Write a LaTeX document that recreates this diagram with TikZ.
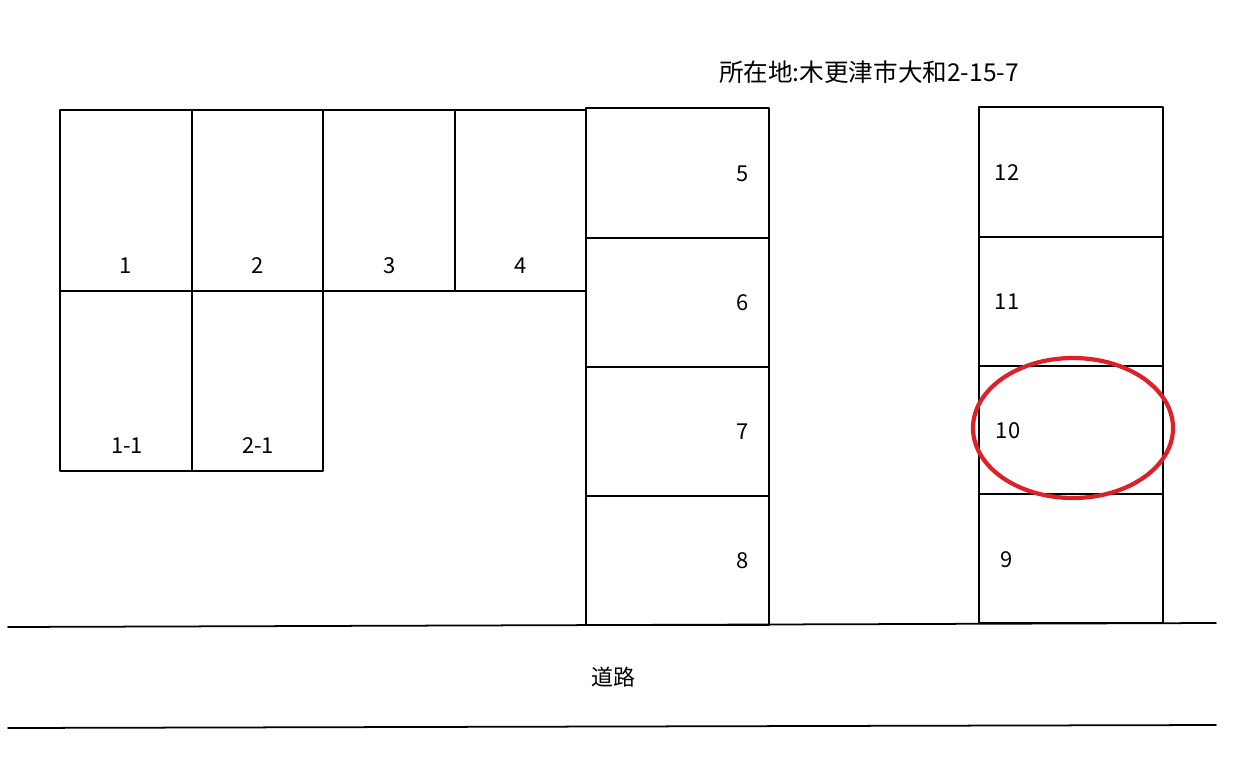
\documentclass[tikz,border=0pt]{standalone}
\usepackage{fontspec}
\setmainfont{Noto Sans CJK JP}
\definecolor{markred}{RGB}{222,32,40}
\begin{document}
\begin{tikzpicture}[x=0.02cm, y=-0.02cm, line join=round, line cap=round]
			\tikzset{every node/.style={font=\fontsize{12.5}{14}\selectfont},
				lot/.style={draw=black, line width=.75pt},
				road/.style={draw=black, line width=1pt}}
			\useasboundingbox (0,0) rectangle (1240,761);
			\def\L{586} \def\R{769} % column 5-8
			\def\LL{979} \def\RR{1163} % column 9-12
			% left block
			\draw[lot] (60,110) rectangle (\L,291);
			\foreach \x in {192,323,455}{\draw[lot] (\x,110)--(\x,291);}
			\draw[lot] (60,291) rectangle (323,471);
			\draw[lot] (192,291)--(192,471);
			% column 5-8
			\draw[lot] (\L,108) rectangle (\R,625);
			\foreach \y in {238,367,496}{\draw[lot] (\L,\y)--(\R,\y);}
			% column 9-12
			\draw[lot] (\LL,107) rectangle (\RR,623);
			\foreach \y in {237,366,494}{\draw[lot] (\LL,\y)--(\RR,\y);}
			% road
			\draw[road] (8,627)--(1216,623);
			\draw[road] (8,728)--(1216,725);
			% numbers
			\foreach \n/\t/\x/\y in {a/1/126/266, b/2/258/266, c/3/390/266, d/4/521/266,
				e/1-1/127/446, f/2-1/258/446,
				g/5/743/174, h/6/743/303, i/7/743/432, j/8/743/561,
				k/12/1007/173, l/11/1007/302, m/10/1008/431, n/9/1007/560}
				{\node (p\n) at (\x,\y) {\t};}
			\node[font=\fontsize{14}{16}\selectfont] (addr) at (869,72) {所在地:木更津市大和2-15-7};
			\node[font=\fontsize{12.5}{14}\selectfont] (way) at (613,677) {道路};
			\draw[markred, line width=2.4pt] (pm.center) ++(65,-3) ellipse [x radius=100, y radius=70];
		\end{tikzpicture}
\end{document}
